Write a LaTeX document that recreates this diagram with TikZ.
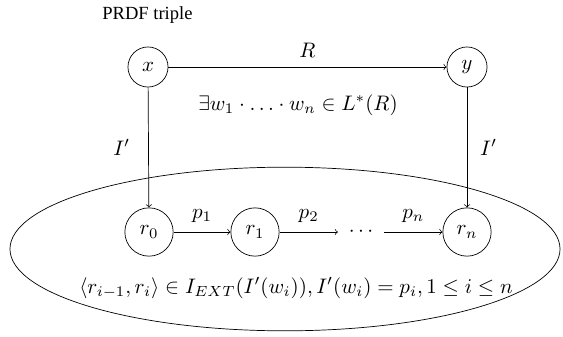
\documentclass[tikz,border=0pt]{standalone}
\usepackage{fontspec}
\newfontfamily\timesfont{Liberation Serif}
\usepackage{amssymb}
\usepackage{graphicx}
\usetikzlibrary{shapes.geometric}
\newcommand\mymt[1]{\scalebox{1.2}{$#1$}}
\begin{document}
\begin{tikzpicture}[x=0.5714pt,y=-0.5714pt,
  st/.style={circle,draw,inner sep=0pt,minimum size=22.9pt},
  stw/.style={circle,draw,inner sep=0pt,minimum size=27.6pt},
  arr/.style={->},
  lbl/.style={inner sep=0pt}]
\useasboundingbox (0,0) rectangle (563,336);
\node[draw,ellipse,inner sep=0pt,minimum width=314.3pt,minimum height=93.5pt] (region) at (285,249) {};
\node[inner sep=0pt,anchor=west] (title) at (102,15) {\scalebox{1.06}{\timesfont PRDF triple}};
\node[st] (x) at (148,67) {\mymt{x}};
\node[st] (y) at (467,67) {\mymt{y}};
\node[stw] (r0) at (149,232) {\mymt{r_0}};
\node[stw] (r1) at (255,232) {\mymt{r_1}};
\node[inner sep=6pt] (dots) at (361,232) {\mymt{\cdots}};
\node[stw] (rn) at (467,232) {\mymt{r_n}};
\draw[arr] (x) -- node[above=2pt] {\mymt{R}} (y);
\node[lbl] (exists) at (298,105) {\mymt{\exists w_1\cdot\ldots\cdot w_n\in L^*(R)}};
\draw[arr] (x) -- node[left=7pt] {\mymt{I'}} (r0);
\draw[arr] (y) -- node[right=4pt] {\mymt{I'}} (rn);
\draw[arr] (r0) -- node[above=2pt] {\mymt{p_1}} (r1);
\draw[arr] (r1) -- node[above=2pt] {\mymt{p_2}} (dots);
\draw[arr] (dots) -- node[above=2pt] {\mymt{p_n}} (rn);
\node[lbl] (cond) at (296,288) {\mymt{\langle r_{i-1},r_i\rangle\in I_{EXT}(I'(w_i)),I'(w_i)=p_i,1\leq i\leq n}};
\end{tikzpicture}
\end{document}
